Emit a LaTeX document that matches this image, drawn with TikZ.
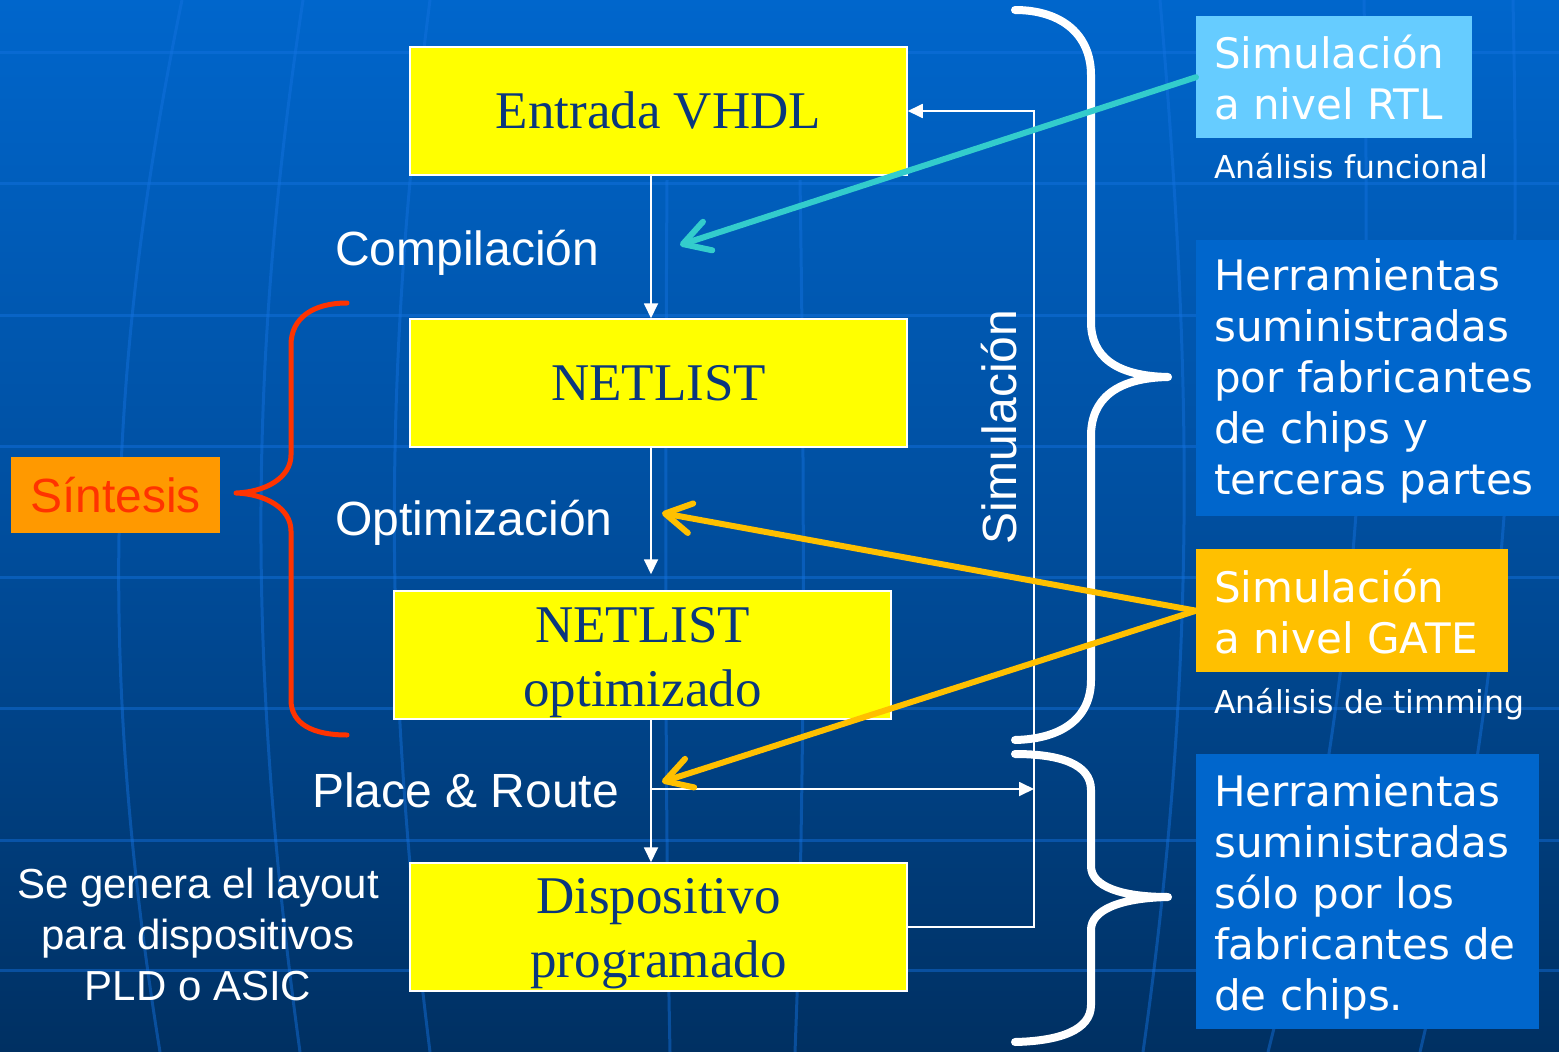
\documentclass[tikz,border=0pt]{standalone}
\usepackage{fontspec}
\setmainfont{Liberation Serif}
\newfontfamily\arialf{Liberation Sans}
\newfontfamily\tahf{DejaVu Sans}
\usetikzlibrary{arrows.meta}
\definecolor{bgtop}{RGB}{0,102,204}
\definecolor{bgmid}{RGB}{0,78,158}
\definecolor{bgbot}{RGB}{0,48,98}
\definecolor{gridc}{RGB}{20,115,225}
\definecolor{boxyel}{RGB}{255,255,0}
\definecolor{navy}{RGB}{10,55,125}
\definecolor{rtlc}{RGB}{102,204,255}
\definecolor{toolc}{RGB}{0,102,204}
\definecolor{gatec}{RGB}{255,192,0}
\definecolor{tealc}{RGB}{51,204,204}
\definecolor{sintfill}{RGB}{255,153,0}
\definecolor{sinttext}{RGB}{255,51,0}
\definecolor{redbr}{RGB}{255,51,0}
\begin{document}
\begin{tikzpicture}[x=1pt,y=-1pt,
  ybox/.style={draw=white, line width=1.5pt, fill=boxyel, text=navy, inner sep=0pt,
    minimum width=497pt, minimum height=128pt, align=center, font=\fontsize{53}{64}\selectfont},
  wline/.style={draw=white, line width=1.8pt},
  wtip/.style={-{Triangle[length=15pt,width=14pt]}},
  lab/.style={text=white, inner sep=0pt, font=\arialf\fontsize{48}{56}\selectfont},
  panel/.style={inner sep=0pt, anchor=north west},
  ptext/.style={text=white, inner sep=0pt, anchor=north west, align=left, font=\tahf\fontsize{42}{51}\selectfont},
  note/.style={text=white, inner sep=0pt, anchor=base west, font=\tahf\fontsize{31.5}{38}\selectfont},
  wbrace/.style={draw=white, line width=8pt, line cap=round, line join=round},
  pointer/.style={line width=6pt, line cap=round, -{Straight Barb[length=26pt,width=30pt,line cap=round,line join=round]}},
  gridl/.style={draw=gridc, line width=3pt, opacity=0.45},
]
\useasboundingbox (0,0) rectangle (1559,1052);
% background
\shade[top color=bgtop, bottom color=bgbot, middle color=bgmid] (0,0) rectangle (1559,1052);
\foreach \yy in {52,183,315,446,577,708,840,970}
  \draw[gridl] (0,\yy) -- (1559,\yy);
\draw[gridl] (182,0) .. controls (110,350) and (95,650) .. (160,1052);
\draw[gridl] (303,0) .. controls (250,350) and (245,650) .. (300,1052);
\draw[gridl] (430,0) .. controls (385,350) and (380,650) .. (430,1052);
\draw[gridl] (667,180) .. controls (665,500) and (665,800) .. (670,1052);
\draw[gridl] (800,180) .. controls (805,500) and (805,800) .. (795,1052);
\draw[gridl] (1160,0) .. controls (1190,350) and (1200,650) .. (1143,1052);
\draw[gridl] (1364,0) .. controls (1370,350) and (1370,650) .. (1268,1052);
\draw[gridl] (1513,0) .. controls (1520,350) and (1515,650) .. (1420,1052);

% braces
\draw[draw=redbr, line width=5pt, line cap=round, line join=round]
  (347,303) .. controls (313,303) and (291,318) .. (291,345) -- (291,455)
  .. controls (291,478) and (265,492) .. (236,493)
  .. controls (265,494) and (291,508) .. (291,531) -- (291,700)
  .. controls (291,724) and (313,735) .. (347,735);
\draw[wbrace]
  (1015,10) .. controls (1062,10) and (1091,35) .. (1091,75) -- (1091,322)
  .. controls (1091,356) and (1115,376) .. (1168,377)
  .. controls (1115,378) and (1091,400) .. (1091,436) -- (1091,680)
  .. controls (1091,718) and (1062,739) .. (1015,740);
\draw[wbrace]
  (1015,754) .. controls (1060,754) and (1091,764) .. (1091,790) -- (1091,866)
  .. controls (1091,886) and (1120,897) .. (1168,897)
  .. controls (1120,898) and (1091,910) .. (1091,930) -- (1091,1005)
  .. controls (1091,1030) and (1060,1041) .. (1015,1042);

% flow boxes
\node[ybox] (vhdl) at (658.5,111) {Entrada VHDL};
\node[ybox] (net) at (658.5,383) {NETLIST};
\node[ybox] (netopt) at (642.5,655) {\rule{0pt}{50pt}NETLIST\\optimizado\rule[-10pt]{0pt}{10pt}};
\node[ybox] (disp) at (658.5,927) {\rule{0pt}{48pt}Dispositivo\\programado\rule[-12pt]{0pt}{12pt}};

% connectors
\coordinate (spine) at (651,0);
\coordinate (fbtop) at (1034,111);
\coordinate (pr) at (651,789);
\draw[wline,wtip] (vhdl.south -| spine) -- (net.north -| spine);
\draw[wline,wtip,shorten >=16pt] (net.south -| spine) -- (netopt.north -| spine);
\draw[wline,wtip] (netopt.south -| spine) -- (disp.north -| spine);
\draw[wline,wtip] (disp.east) -| (fbtop) -- (vhdl.east);
\draw[wline,wtip] (pr) -- (pr -| fbtop);

% labels
\node[lab, anchor=base west] (comp) at (335,265) {Compilación};
\node[lab, anchor=base west] (optim) at (335,535) {Optimización};
\node[lab, anchor=base west] (place) at (312,807) {Place \& Route};
\node[lab, rotate=90, anchor=base] (simv) at (1016,427) {Simulación};
\node[lab, fill=sintfill, text=sinttext, minimum width=209pt, minimum height=76pt] (sint) at (115.5,495) {Síntesis};
\node[lab, font=\arialf\fontsize{42}{51}\selectfont, align=center, anchor=north] (layout) at (198,858)
  {\rule{0pt}{40pt}Se genera el layout\\para dispositivos\\PLD o ASIC};

% right panels
\node[panel, fill=rtlc, minimum width=276pt, minimum height=122pt] (rtl) at (1196,16) {};
\node[ptext] (rtlt) at (1214,28) {\rule{0pt}{40pt}Simulación\\a nivel RTL};
\node[note] (func) at (1214,178) {Análisis funcional};
\node[panel, fill=toolc, minimum width=363pt, minimum height=276pt] (tools1) at (1196,240) {};
\node[ptext] (tools1t) at (1214,250) {\rule{0pt}{40pt}Herramientas\\suministradas\\por fabricantes\\de chips y\\terceras partes};
\node[panel, fill=gatec, minimum width=312pt, minimum height=123pt] (gate) at (1196,549) {};
\node[ptext] (gatet) at (1214,562) {\rule{0pt}{40pt}Simulación\\a nivel GATE};
\node[note] (timm) at (1214,713) {Análisis de timming};
\node[panel, fill=toolc, minimum width=343pt, minimum height=275pt] (tools2) at (1196,754) {};
\node[ptext] (tools2t) at (1214,766) {\rule{0pt}{40pt}Herramientas\\suministradas\\sólo por los\\fabricantes de\\de chips.};

% pointers
\coordinate (tcomp) at (680,245);
\coordinate (topt) at (662,513);
\coordinate (tpr) at (662,782);
\draw[pointer, draw=tealc] (rtl.west) -- (tcomp);
\draw[pointer, draw=gatec] (gate.west) -- (topt);
\draw[pointer, draw=gatec] (gate.west) -- (tpr);
\end{tikzpicture}
\end{document}
